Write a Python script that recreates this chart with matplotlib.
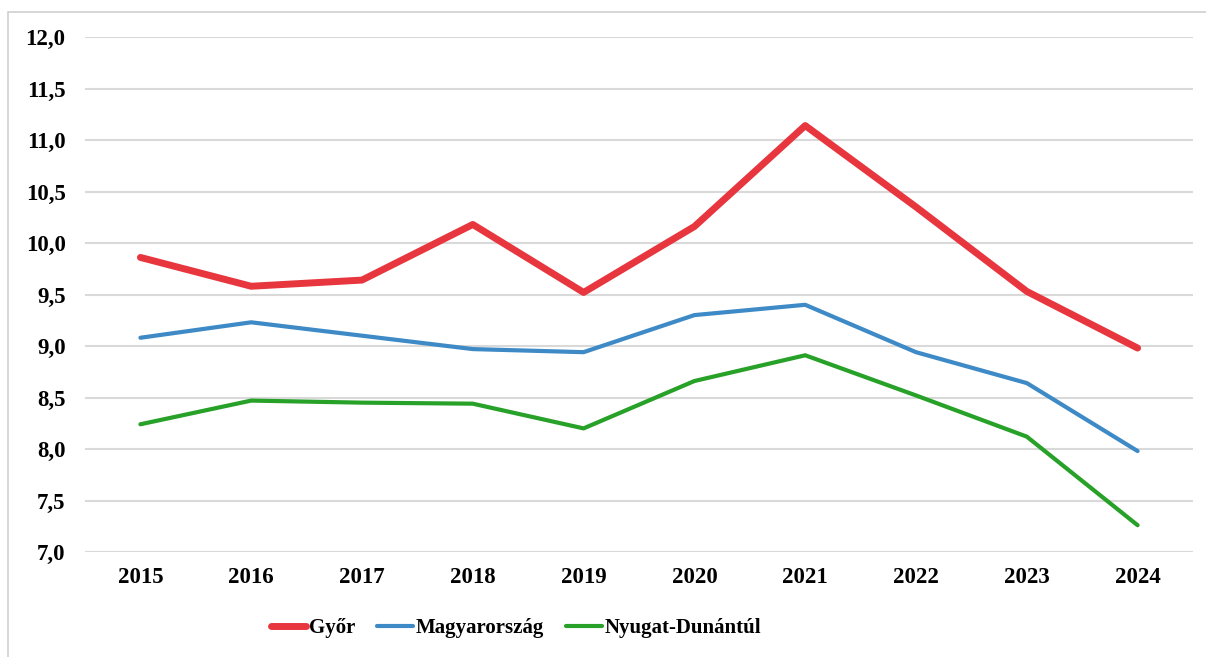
import matplotlib
matplotlib.use("Agg")
import matplotlib.pyplot as plt
from matplotlib.patches import Rectangle

years = ["2015", "2016", "2017", "2018", "2019", "2020", "2021", "2022", "2023", "2024"]
gyor = [9.86, 9.58, 9.64, 10.18, 9.52, 10.16, 11.14, 10.35, 9.53, 8.98]
magyarorszag = [9.08, 9.23, 9.10, 8.97, 8.94, 9.30, 9.40, 8.94, 8.64, 7.98]
nyugat_dunantul = [8.24, 8.47, 8.45, 8.44, 8.20, 8.66, 8.91, 8.52, 8.12, 7.26]
series_names = ["Győr", "Magyarország", "Nyugat-Dunántúl"]
y_ticks = [7.0, 7.5, 8.0, 8.5, 9.0, 9.5, 10.0, 10.5, 11.0, 11.5, 12.0]

plt.rcParams['font.family'] = ['Liberation Serif', 'DejaVu Serif']
plt.rcParams['font.weight'] = 'bold'

W, H = 1206, 657
fig = plt.figure(figsize=(W / 100, H / 100), dpi=100)
fig.patch.set_facecolor('white')

# outer chart border
fig.add_artist(Rectangle((8 / W, -0.05), 1.2, 1 - 12 / H + 0.05, transform=fig.transFigure,
                         fill=False, edgecolor='#D0D0D0', linewidth=1.2))

ax = fig.add_axes([85 / W, 1 - 552 / H, (1193 - 85) / W, (552 - 37) / H])
x = list(range(len(years)))
ax.plot(x, gyor, color='#E8363F', linewidth=5.0, solid_capstyle='round', label=series_names[0], zorder=3)
ax.plot(x, magyarorszag, color='#3D8AC6', linewidth=3.0, solid_capstyle='round', label=series_names[1], zorder=3)
ax.plot(x, nyugat_dunantul, color='#27A127', linewidth=3.0, solid_capstyle='round', label=series_names[2], zorder=3)

ax.set_xlim(-0.5, len(years) - 0.5)
ax.set_ylim(7.0, 12.0)
ax.set_yticks(y_ticks)
ax.set_yticklabels([f"{v:.1f}".replace('.', ',') for v in y_ticks])
ax.set_xticks(x)
ax.set_xticklabels(years)
ax.yaxis.grid(True, color='#D9D9D9', linewidth=1.5)
ax.set_axisbelow(True)
for s in ax.spines.values():
    s.set_visible(False)
ax.tick_params(axis='both', length=0, labelsize=16.5)
ax.tick_params(axis='y', pad=14)
ax.tick_params(axis='x', pad=11)
for lbl in ax.get_xticklabels() + ax.get_yticklabels():
    lbl.set_fontweight('bold')

leg = fig.legend(loc='center', bbox_to_anchor=(516 / W, 1 - 628 / H), ncol=3, frameon=False,
                 prop={'size': 15, 'weight': 'bold'}, handlelength=1.7, handletextpad=0.15,
                 columnspacing=1.05)

fig.savefig('out.png', dpi=100, facecolor='white')
